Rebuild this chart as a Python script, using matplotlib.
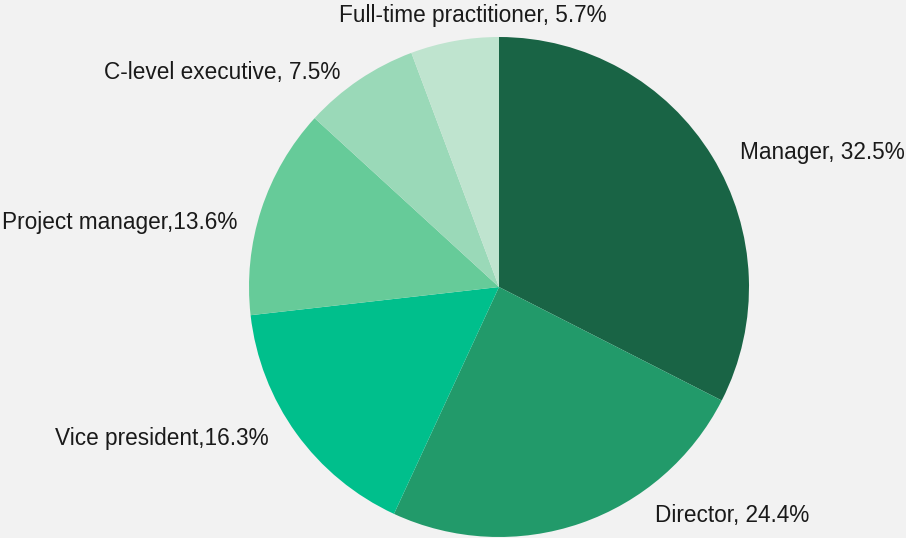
import matplotlib.pyplot as plt

plt.rcParams['font.family'] = ['Liberation Sans', 'DejaVu Sans']

# data
categories = ['Manager', 'Director', 'Vice president', 'Project manager',
              'C-level executive', 'Full-time practitioner']
shares = [32.5, 24.4, 16.3, 13.6, 7.5, 5.7]
label_texts = ['Manager, 32.5%', 'Director, 24.4%', 'Vice president,16.3%',
               'Project manager,13.6%', 'C-level executive, 7.5%',
               'Full-time practitioner, 5.7%']
colors = ['#196445', '#229a6a', '#00bf8c', '#66cb99', '#9ad9b8', '#bfe4cf']

# label anchor positions (left edge, vertical centre) in pie units
label_pos = [(0.964, 0.54), (0.624, -0.915), (-1.776, -0.605),
             (-1.988, 0.26), (-1.58, 0.86), (-0.64, 1.085)]

W, H = 906, 538
fig = plt.figure(figsize=(W / 100, H / 100), dpi=100)
fig.patch.set_facecolor('#f2f2f2')

cx, cy, r = 499, 287, 250
ax = fig.add_axes([(cx - r) / W, (H - cy - r) / H, 2 * r / W, 2 * r / H])
ax.set_facecolor('none')
ax.pie(shares, colors=colors, startangle=90, counterclock=False, radius=1,
       wedgeprops=dict(linewidth=0))
ax.set_xlim(-1, 1)
ax.set_ylim(-1, 1)
ax.set_aspect('auto')
ax.axis('off')

for txt, (x, y) in zip(label_texts, label_pos):
    ax.text(x, y, txt, ha='left', va='center', fontsize=16.3,
            color='#1a1a1a', clip_on=False)

fig.savefig('out.png', dpi=100, facecolor=fig.get_facecolor())
